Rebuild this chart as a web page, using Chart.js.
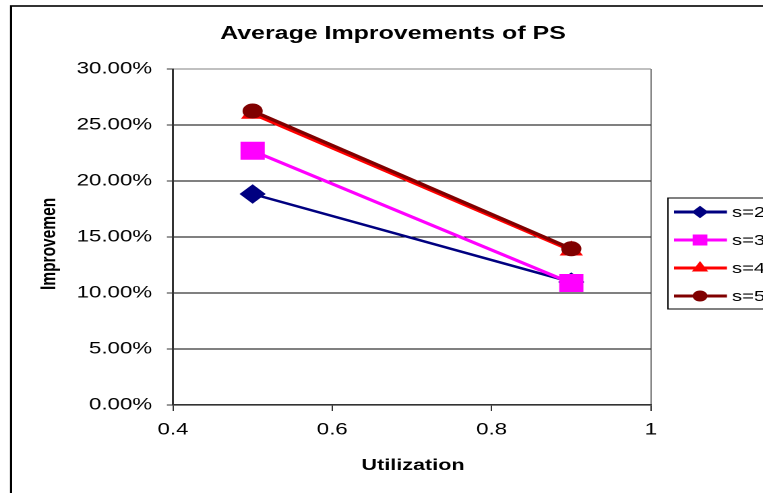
<!DOCTYPE html>
<html><head><meta charset="utf-8">
<script src="https://cdn.jsdelivr.net/npm/chart.js@4.4.1/dist/chart.umd.min.js"></script>
<style>
html,body{margin:0;padding:0;background:#fff;overflow:hidden;}
#wrap{width:566px;height:493px;transform:scaleX(1.348);transform-origin:0 0;}
</style></head><body>
<div id="wrap"><canvas id="c" width="566" height="493"></canvas></div>
<script>
const chartTitle = 'Average Improvements of PS';
const xTitle = 'Utilization';
const yTitle = 'Improvement';
const utilization = [0.5, 0.9];
const seriesNames = ['s=2', 's=3', 's=4', 's=5'];
const s2 = [0.1884, 0.1098];
const s3 = [0.2270, 0.1089];
const s4 = [0.2600, 0.1380];
const s5 = [0.2625, 0.1395];
const xTicks = [0.4, 0.6, 0.8, 1];
const yTicks = [0, 0.05, 0.10, 0.15, 0.20, 0.25, 0.30];

const FONT = "'Liberation Sans', Arial, sans-serif";
const colors = ['#000080', '#FF00FF', '#FF0000', '#800000'];
const styles = ['rectRot', 'rect', 'triangle', 'circle'];
const radii = [9, 12, 9, 7];
const widths = [2.5, 3, 3, 3.2];
const legendRadii = [5.5, 7, 6, 5];
const seriesValues = [s2, s3, s4, s5];

const datasets = seriesNames.map((name, i) => ({
  label: name,
  data: utilization.map((u, j) => ({x: u, y: seriesValues[i][j]})),
  borderColor: colors[i],
  backgroundColor: colors[i],
  borderWidth: widths[i],
  pointStyle: styles[i],
  pointRadius: radii[i],
  pointBorderWidth: 1,
  pointBorderColor: colors[i],
  pointBackgroundColor: colors[i],
  order: seriesNames.length - i,
  tension: 0
}));

const textPlugin = {
  id: 'texts',
  afterDraw(chart) {
    const ctx = chart.ctx;
    ctx.save();
    // outer border
    ctx.strokeStyle = '#000';
    ctx.lineWidth = 1.6;
    ctx.strokeRect(8.2, 6, 600, 520);
    // title
    ctx.fillStyle = '#000';
    ctx.textAlign = 'center';
    ctx.textBaseline = 'alphabetic';
    ctx.font = "bold 18.5px " + FONT;
    ctx.fillText(chartTitle, 291.5, 39);
    // x title
    ctx.font = "bold 16px " + FONT;
    ctx.fillText(xTitle, 306.4, 470);
    // y title (clipped at top, as in the reference)
    ctx.save();
    ctx.beginPath();
    ctx.rect(0, 198, 120, 200);
    ctx.clip();
    ctx.translate(40.8, 290);
    ctx.rotate(-Math.PI / 2);
    ctx.textAlign = 'left';
    ctx.font = "bold 15.5px " + FONT;
    ctx.fillText(yTitle, 0, 0);
    ctx.restore();
    // legend
    ctx.lineWidth = 1;
    ctx.strokeStyle = '#000';
    ctx.strokeRect(495.5, 198, 100, 111);
    const rows = [212, 240, 268, 296];
    chart.data.datasets.forEach((ds, i) => {
      const y = rows[i];
      ctx.strokeStyle = ds.borderColor;
      ctx.lineWidth = 3;
      ctx.beginPath();
      ctx.moveTo(500, y);
      ctx.lineTo(539.3, y);
      ctx.stroke();
      ctx.fillStyle = ds.backgroundColor;
      ctx.strokeStyle = ds.borderColor;
      ctx.lineWidth = 1;
      Chart.helpers.drawPoint(ctx, {pointStyle: ds.pointStyle, radius: legendRadii[i], rotation: 0, borderWidth: 1}, 519.3, y);
      ctx.fillStyle = '#000';
      ctx.textAlign = 'left';
      ctx.textBaseline = 'middle';
      ctx.font = "15px " + FONT;
      ctx.fillText(ds.label, 543, y + 1);
    });
    ctx.restore();
  }
};

new Chart(document.getElementById('c'), {
  type: 'line',
  data: {datasets},
  options: {
    responsive: false,
    animation: false,
    devicePixelRatio: 2,
    layout: {padding: {left: 0, right: 83.1, top: 69, bottom: 0}},
    plugins: {legend: {display: false}, title: {display: false}, tooltip: {enabled: false}},
    scales: {
      x: {
        type: 'linear',
        min: 0.4, max: 1,
        afterBuildTicks: (s) => { s.ticks = xTicks.map(v => ({value: v})); },
        afterFit: (s) => { s.height = 88; },
        ticks: {
          font: {family: FONT, size: 16.5},
          color: '#000',
          padding: 9,
          maxRotation: 0,
          callback: (v) => String(v)
        },
        grid: {
          color: (c) => (c.tick && c.tick.value === 1) ? '#808080' : 'rgba(0,0,0,0)',
          tickColor: '#333',
          tickLength: 6,
          lineWidth: 1
        },
        border: {color: '#333', width: 1.6}
      },
      y: {
        min: 0, max: 0.30,
        afterBuildTicks: (s) => { s.ticks = yTicks.map(v => ({value: v})); },
        afterFit: (s) => { s.width = 128.3; },
        ticks: {
          font: {family: FONT, size: 16.5},
          color: '#000',
          padding: 11,
          callback: (v) => (v * 100).toFixed(2) + '%'
        },
        grid: {
          color: (c) => (c.tick && c.tick.value > 0.299) ? '#808080' : '#000000',
          tickColor: '#333',
          tickLength: 4.5,
          lineWidth: 1
        },
        border: {color: '#333', width: 1.5}
      }
    }
  },
  plugins: [textPlugin]
});
</script>
</body></html>
